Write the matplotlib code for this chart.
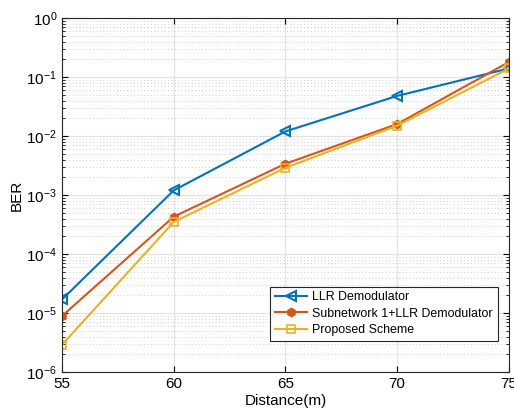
import numpy as np
import matplotlib
matplotlib.use('Agg')
import matplotlib.pyplot as plt
from matplotlib.ticker import LogLocator, NullFormatter

plt.rcParams['font.family'] = ['Liberation Sans', 'DejaVu Sans']
plt.rcParams['mathtext.fontset'] = 'custom'
plt.rcParams['mathtext.rm'] = 'Liberation Sans'

distance = [55, 60, 65, 70, 75]
ber_llr = [1.7e-5, 1.2e-3, 1.2e-2, 4.8e-2, 1.4e-1]
ber_sub = [8.9e-6, 4.3e-4, 3.4e-3, 1.6e-2, 1.8e-1]
ber_prop = [2.9e-6, 3.5e-4, 2.9e-3, 1.5e-2, 1.4e-1]
labels = ['LLR Demodulator', 'Subnetwork 1+LLR Demodulator', 'Proposed Scheme']

fig = plt.figure(figsize=(5.14, 4.12), dpi=100)
ax = fig.add_axes([0.1206, 0.097, 0.8694, 0.859])

ax.semilogy(distance, ber_llr, color='#0072BD', lw=1.5, marker='<', ms=7,
            mfc='none', mew=1.5, label=labels[0])
ax.semilogy(distance, ber_sub, color='#D95319', lw=1.5, marker='h', ms=6,
            mew=1.0, label=labels[1])
ax.semilogy(distance, ber_prop, color='#EDB120', lw=1.5, marker='s', ms=6,
            mfc='none', mew=1.2, label=labels[2])

ax.set_xlim(55, 75)
ax.set_ylim(1e-6, 1)
ax.set_xticks([55, 60, 65, 70, 75])
ax.yaxis.set_major_locator(LogLocator(base=10, numticks=10))
ax.yaxis.set_minor_locator(LogLocator(base=10, subs=np.arange(2, 10), numticks=20))
ax.yaxis.set_minor_formatter(NullFormatter())

ax.grid(True, which='major', color='#e3e3e3', lw=0.9, ls='-')
ax.grid(True, which='minor', color='#cfcfcf', lw=0.7, ls=(0, (1, 2.5)))
ax.set_axisbelow(True)
ax.tick_params(which='both', direction='in', top=True, right=True, labelsize=11)
ax.tick_params(which='major', length=4)
ax.tick_params(which='minor', length=2)
for s in ax.spines.values():
    s.set_color('#262626')
    s.set_linewidth(0.8)

ax.set_xlabel('Distance(m)', fontsize=11, labelpad=2)
ax.set_ylabel('BER', fontsize=11, labelpad=2)

leg = ax.legend(loc='lower left', bbox_to_anchor=(0.452, 0.07), fontsize=8.9,
                fancybox=False, edgecolor='#262626', framealpha=1,
                borderpad=0.4, labelspacing=0.35, handlelength=2.6, handletextpad=0.4)
leg.get_frame().set_linewidth(0.8)

fig.savefig('out.png', dpi=100)
